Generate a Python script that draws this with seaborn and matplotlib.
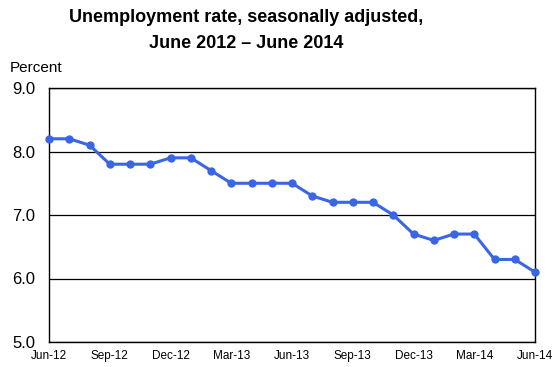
import pandas as pd
import matplotlib.pyplot as plt
import seaborn as sns

# Monthly unemployment rate, Jun 2012 - Jun 2014
months = ["Jun-12", "Jul-12", "Aug-12", "Sep-12", "Oct-12", "Nov-12", "Dec-12",
          "Jan-13", "Feb-13", "Mar-13", "Apr-13", "May-13", "Jun-13", "Jul-13",
          "Aug-13", "Sep-13", "Oct-13", "Nov-13", "Dec-13", "Jan-14", "Feb-14",
          "Mar-14", "Apr-14", "May-14", "Jun-14"]
rate = [8.2, 8.2, 8.1, 7.8, 7.8, 7.8, 7.9, 7.9, 7.7, 7.5, 7.5, 7.5, 7.5, 7.3,
        7.2, 7.2, 7.2, 7.0, 6.7, 6.6, 6.7, 6.7, 6.3, 6.3, 6.1]
tick_labels = ["Jun-12", "Sep-12", "Dec-12", "Mar-13", "Jun-13", "Sep-13",
               "Dec-13", "Mar-14", "Jun-14"]
y_ticks = [5.0, 6.0, 7.0, 8.0, 9.0]

df = pd.DataFrame({"Month": months, "Rate": rate})
df["Pos"] = range(len(df))

sns.set_style("white")
plt.rcParams["font.family"] = ["Liberation Sans", "DejaVu Sans"]
plt.rcParams["text.color"] = "black"
plt.rcParams["xtick.color"] = "black"
plt.rcParams["ytick.color"] = "black"

fig = plt.figure(figsize=(5.55, 3.67), dpi=100)
ax = fig.add_axes([49 / 555, 25 / 367, 486 / 555, 254 / 367])

sns.lineplot(data=df, x="Pos", y="Rate", ax=ax, color="#3a66e6", linewidth=2.2,
             marker="o", markersize=6, markeredgewidth=0, clip_on=False, zorder=3)

ax.set_xlim(0, len(months) - 1)
ax.set_ylim(5, 9)
ax.set_yticks(y_ticks)
ax.set_yticklabels([f"{v:.1f}" for v in y_ticks], fontsize=12)
ax.set_xticks(range(0, len(months), 3))
ax.set_xticklabels(tick_labels, fontsize=8.5)
ax.set_xticks(range(len(months)), minor=True)
ax.tick_params(axis="x", which="major", direction="in", length=5, width=0.8, pad=6)
ax.tick_params(axis="x", which="minor", direction="in", length=3, width=0.8)
ax.tick_params(axis="y", length=0, pad=10)
ax.grid(axis="y", color="black", linewidth=0.9)
ax.set_xlabel("")
ax.set_ylabel("")
for s in ax.spines.values():
    s.set_color("black")
    s.set_linewidth(1)

fig.text(246 / 555, 1 - 18 / 367, "Unemployment rate, seasonally adjusted,",
         ha="center", va="center", fontsize=13, fontweight="bold")
fig.text(246 / 555, 1 - 43 / 367, "June 2012 \u2013 June 2014",
         ha="center", va="center", fontsize=13, fontweight="bold")
fig.text(10 / 555, 1 - 68 / 367, "Percent", ha="left", va="center", fontsize=11)

fig.savefig("out.png", dpi=100)
